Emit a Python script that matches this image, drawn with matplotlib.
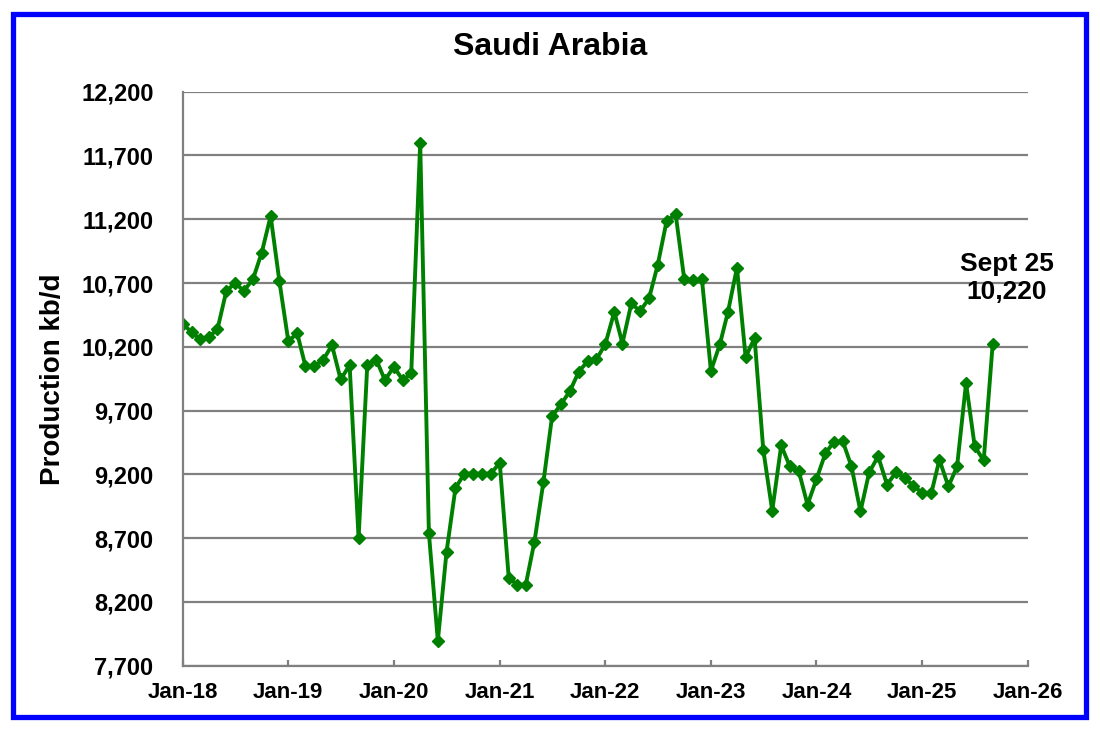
import matplotlib
matplotlib.use('Agg')
import matplotlib.pyplot as plt
import matplotlib.dates as mdates
from matplotlib.patches import Rectangle
from matplotlib.ticker import FuncFormatter
import pandas as pd

plt.rcParams['font.family'] = ['Liberation Sans', 'DejaVu Sans']
plt.rcParams['font.weight'] = 'bold'

start_month = '2018-01-01'
prod_2018 = [10375, 10318, 10260, 10279, 10336, 10640, 10697, 10640, 10731, 10937, 11225, 10718]
prod_2019 = [10245, 10305, 10050, 10050, 10095, 10213, 9944, 10056, 8700, 10056, 10100, 9939]
prod_2020 = [10043, 9939, 9991, 11800, 8741, 7895, 8592, 9094, 9206, 9206, 9206, 9206]
prod_2021 = [9290, 8391, 8336, 8336, 8673, 9141, 9656, 9750, 9855, 10004, 10088, 10101]
prod_2022 = [10221, 10474, 10226, 10540, 10480, 10579, 10841, 11188, 11241, 10728, 10723, 10728]
prod_2023 = [10012, 10220, 10474, 10820, 10120, 10269, 9393, 8915, 9427, 9262, 9223, 8962]
prod_2024 = [9163, 9367, 9453, 9458, 9262, 8909, 9215, 9341, 9119, 9215, 9171, 9111]
prod_2025 = [9053, 9053, 9315, 9105, 9262, 9916, 9419, 9309, 10220]
y_ticks = [7700, 8200, 8700, 9200, 9700, 10200, 10700, 11200, 11700, 12200]

production = (prod_2018 + prod_2019 + prod_2020 + prod_2021 +
              prod_2022 + prod_2023 + prod_2024 + prod_2025)
months = pd.date_range(start_month, periods=len(production), freq='MS')

fig = plt.figure(figsize=(11, 7.36), dpi=100)
ax = fig.add_axes([0.1661, 0.0955, 0.7684, 0.7799])

ax.plot(months, production, color='#008000', linewidth=2.8,
        marker='D', markersize=6, markeredgewidth=1)

ax.set_ylim(7700, 12200)
ax.set_yticks(y_ticks)
ax.yaxis.set_major_formatter(FuncFormatter(lambda v, p: '{:,.0f}'.format(v)))
ax.set_xlim(pd.Timestamp('2018-01-01'), pd.Timestamp('2026-01-01'))
ax.xaxis.set_major_locator(mdates.YearLocator())
ax.xaxis.set_major_formatter(mdates.DateFormatter('%b-%y'))

ax.grid(axis='y', color='#808080', linewidth=1.6)
ax.set_axisbelow(True)
for s in ['top', 'right']:
    ax.spines[s].set_visible(False)
for s in ['left', 'bottom']:
    ax.spines[s].set_color('#808080')
    ax.spines[s].set_linewidth(1.6)

ax.tick_params(axis='y', length=0, pad=21, labelsize=17)
ax.tick_params(axis='x', direction='in', length=4.5, width=1.6, color='#808080',
               pad=12, labelsize=16)
for lab in ax.get_xticklabels() + ax.get_yticklabels():
    lab.set_fontweight('bold')

fig.text(0.5, 1 - 47 / 736, 'Saudi Arabia', ha='center', va='center',
         fontsize=23, fontweight='bold')
fig.text(53 / 1100, 1 - 379 / 736, 'Production kb/d', rotation=90,
         ha='center', va='center', fontsize=20, fontweight='bold')
fig.text(1007 / 1100, 1 - 278 / 736, 'Sept 25\n10,220', ha='center', va='center',
         fontsize=19, fontweight='bold', linespacing=1.25)

fig.add_artist(Rectangle((12.5 / 1100, 1 - 716.5 / 736), 1073 / 1100, 702.5 / 736,
                         transform=fig.transFigure, fill=False,
                         edgecolor='#0000FF', linewidth=3.8))

plt.savefig('out.png', dpi=100)
plt.close()
